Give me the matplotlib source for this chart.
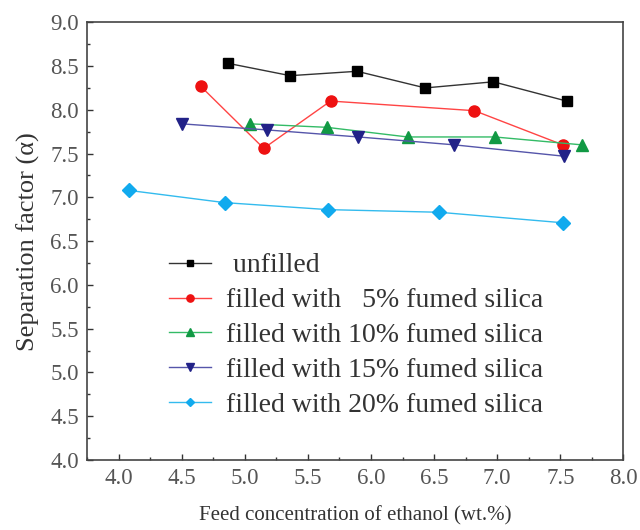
import matplotlib
matplotlib.use("Agg")
import matplotlib.pyplot as plt
from matplotlib.ticker import MultipleLocator

plt.rcParams['font.family'] = ['Liberation Serif', 'DejaVu Serif']

# data
x_unfilled = [4.87, 5.36, 5.89, 6.43, 6.97, 7.55]
y_unfilled = [8.53, 8.39, 8.44, 8.25, 8.32, 8.10]

x_5 = [4.65, 5.15, 5.68, 6.82, 7.52]
y_5 = [8.27, 7.56, 8.10, 7.99, 7.60]

x_10 = [5.04, 5.65, 6.29, 6.98, 7.67]
y_10 = [7.84, 7.80, 7.69, 7.69, 7.60]

x_15 = [4.50, 5.18, 5.90, 6.66, 7.53]
y_15 = [7.84, 7.77, 7.69, 7.60, 7.47]

x_20 = [4.08, 4.84, 5.66, 6.54, 7.52]
y_20 = [7.08, 6.94, 6.86, 6.83, 6.71]

labels = [" unfilled",
          "filled with   5% fumed silica",
          "filled with 10% fumed silica",
          "filled with 15% fumed silica",
          "filled with 20% fumed silica"]

fig = plt.figure(figsize=(6.4, 5.3), dpi=100)
ax = fig.add_axes([0.136, 0.132, 0.838, 0.826])

ax.plot(x_unfilled, y_unfilled, color='#333333', lw=1, marker='s', ms=7,
        mfc='black', mec='black', label=labels[0])
ax.plot(x_5, y_5, color='#ff4444', lw=1, marker='o', ms=8,
        mfc='#ee1111', mec='#ee1111', label=labels[1])
ax.plot(x_10, y_10, color='#33bb66', lw=1, marker='^', ms=8,
        mfc='#119944', mec='#119944', label=labels[2])
ax.plot(x_15, y_15, color='#5555aa', lw=1, marker='v', ms=8,
        mfc='#222288', mec='#222288', label=labels[3])
ax.plot(x_20, y_20, color='#33bbee', lw=1, marker='D', ms=7,
        mfc='#11aaee', mec='#11aaee', label=labels[4])

ax.set_xlim(3.75, 8.0)
ax.set_ylim(4.0, 9.0)
ax.xaxis.set_major_locator(MultipleLocator(0.5))
ax.xaxis.set_minor_locator(MultipleLocator(0.25))
ax.yaxis.set_major_locator(MultipleLocator(0.5))
ax.yaxis.set_minor_locator(MultipleLocator(0.25))
ax.tick_params(which='both', direction='in', colors='#333333',
               labelcolor='#555555', labelsize=16.5, length=4, width=1, pad=6)
ax.tick_params(which='minor', length=2.5)
for s in ax.spines.values():
    s.set_color('#444444')
    s.set_linewidth(1.2)

ax.set_xlabel("Feed concentration of ethanol (wt.%)", fontsize=15,
              color='#333333', labelpad=12)
ax.set_ylabel("Separation factor (\u03b1)", fontsize=19, color='#333333',
              labelpad=7)

ax.legend(loc='upper left', bbox_to_anchor=(0.153, 0.473), frameon=False,
          fontsize=20, handlelength=1.5, handletextpad=0.55,
          labelspacing=0.34, borderpad=0, borderaxespad=0,
          markerscale=0.65, labelcolor='#333333')

fig.savefig("out.png", dpi=100)
